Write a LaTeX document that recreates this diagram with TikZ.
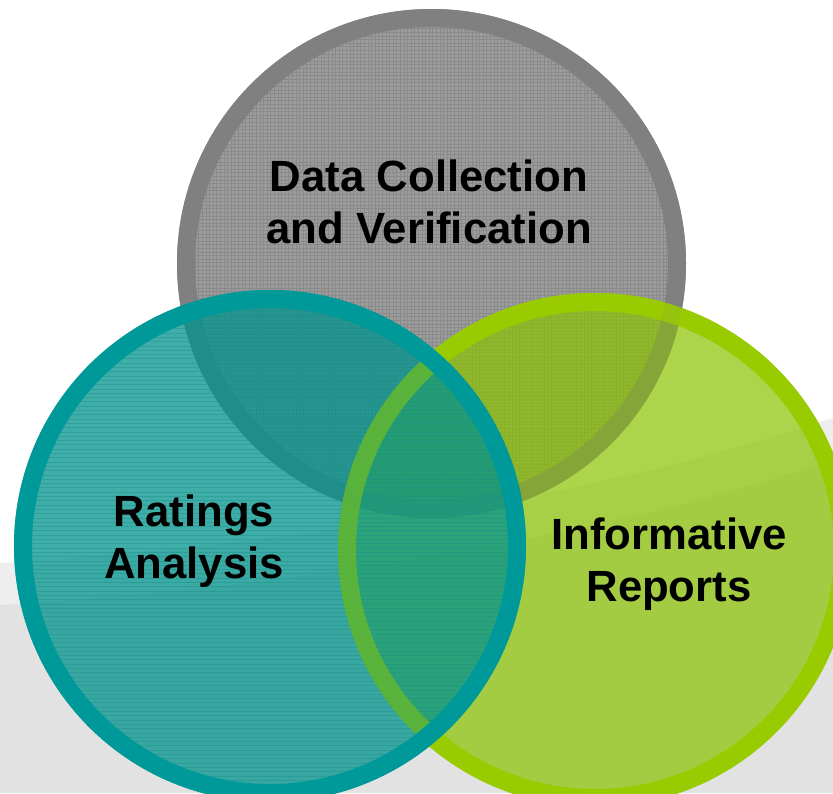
\documentclass[tikz,border=0pt]{standalone}
\usepackage{fontspec}
\setmainfont{Liberation Sans}
\definecolor{grayring}{HTML}{808080}
\definecolor{grayfill}{HTML}{9C9C9C}
\definecolor{gridc}{HTML}{8A8A8A}
\definecolor{tealring}{HTML}{009999}
\definecolor{tealfill}{HTML}{00948C}
\definecolor{tealline}{HTML}{1E8F8A}
\definecolor{greenring}{HTML}{99CC00}
\definecolor{greenfill}{HTML}{8BC400}
\definecolor{bandA}{HTML}{EEEEEE}
\definecolor{bandB}{HTML}{E2E2E2}
\tikzset{
  lbl/.style={font=\bfseries\fontsize{43.7}{52}\selectfont, inner sep=0pt, text=black, anchor=base},
  ring/.style={line width=18pt},
}
\begin{document}
\begin{tikzpicture}[x=1pt,y=-1pt]
\useasboundingbox (0,0) rectangle (833,793);
\clip (0,0) rectangle (833,793);
% background
\fill[white] (0,0) rectangle (833,793);
\fill[bandA] (0,563) .. controls (300,545) and (600,495) .. (833,418) -- (833,793) -- (0,793) -- cycle;
\fill[bandB] (0,605) .. controls (300,587) and (600,537) .. (833,460) -- (833,793) -- (0,793) -- cycle;
% centres
\coordinate (G) at (431.5,263.5);
\coordinate (T) at (270,546);
\coordinate (R) at (595,550);
% gray circle
\fill[grayfill] (G) circle[radius=254.5pt];
\begin{scope}
  \clip (G) circle[radius=237pt];
  \foreach \i in {0,3.6,...,540} {
    \draw[gridc, line width=0.7pt] (170+\i,0) -- (170+\i,530);
    \draw[gridc, line width=0.7pt] (170,\i) -- (700,\i);
  }
\end{scope}
\draw[grayring, ring] (G) circle[radius=245.5pt];
% green circle
\fill[greenfill, fill opacity=0.7] (R) circle[radius=257pt];
\draw[greenring, ring] (R) circle[radius=248pt];
\draw[grayring, ring, draw opacity=0.2] (G) circle[radius=245.5pt];
% teal circle
\fill[tealfill, fill opacity=0.75] (T) circle[radius=256pt];
\begin{scope}
  \clip (T) circle[radius=239pt];
  \foreach \i in {290,294.3,...,800} {
    \draw[tealline, line width=0.8pt, draw opacity=0.45] (10,\i) -- (530,\i);
  }
\end{scope}
\draw[greenring, ring, draw opacity=0.45] (R) circle[radius=248pt];
\draw[tealring, ring] (T) circle[radius=247pt];
% labels
\node[lbl] (dc1) at (429,191) {Data Collection};
\node[lbl] (dc2) at (429,243) {and Verification};
\node[lbl] (ra1) at (194,526) {Ratings};
\node[lbl] (ra2) at (194,578) {Analysis};
\node[lbl] (ir1) at (669,549) {Informative};
\node[lbl] (ir2) at (669,601) {Reports};
\end{tikzpicture}
\end{document}
